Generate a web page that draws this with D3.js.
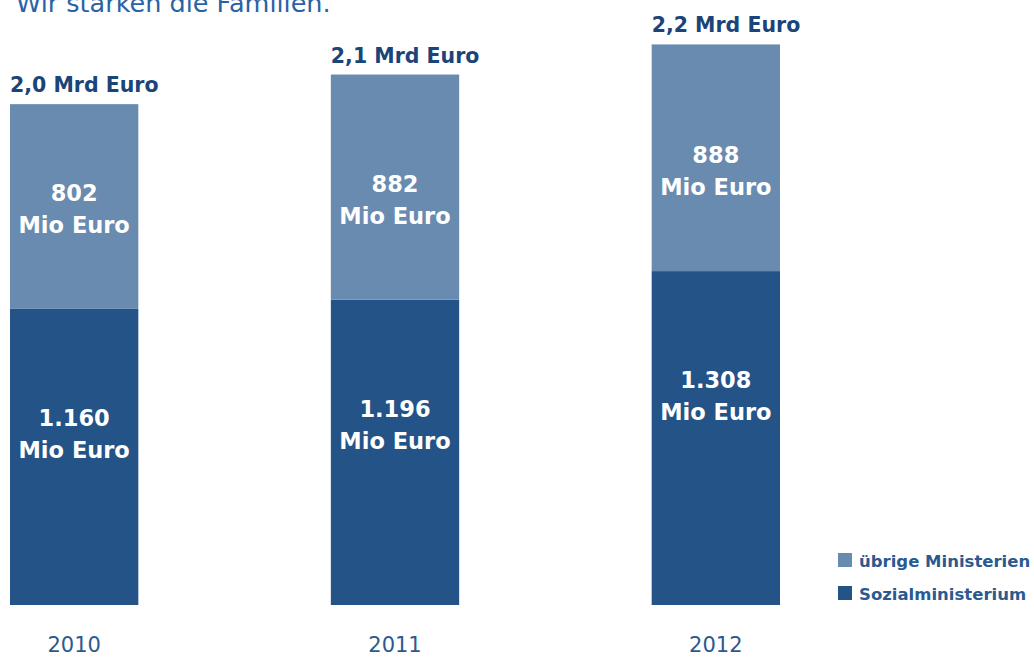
<!DOCTYPE html>
<html>
<head>
<meta charset="utf-8">
<script src="https://cdn.jsdelivr.net/npm/d3@7"></script>
<style>
  body { margin: 0; background: #fff; }
  svg { display: block; font-family: "DejaVu Sans", sans-serif; }
</style>
</head>
<body>
<svg id="chart" width="1034" height="657"></svg>
<script>
// values in Mio Euro
var years = ["2010", "2011", "2012"];
var sozial = [1160, 1196, 1308];
var uebrige = [802, 882, 888];
var totals = ["2,0 Mrd Euro", "2,1 Mrd Euro", "2,2 Mrd Euro"];
var seriesNames = ["übrige Ministerien", "Sozialministerium"];

var colLight = "#6a8bb0", colDark = "#245387";

var svg = d3.select("#chart");

// title (cut off at top in the original)
svg.append("text")
  .attr("x", 16).attr("y", 12)
  .attr("fill", "#2a62a6")
  .style("font-size", "25.5px")
  .text("Wir stärken die Familien.");

var x = d3.scaleBand().domain(years).range([10, 780]).paddingInner(0.6).paddingOuter(0);
var y = d3.scaleLinear().domain([0, 2370]).range([605, 0]);

var rows = years.map(function(yr, i) {
  return {year: yr, sozial: sozial[i], uebrige: uebrige[i], total: totals[i]};
});

var g = svg.selectAll(".bar").data(rows).enter().append("g").attr("class", "bar");

// Sozialministerium segment
g.append("rect")
  .attr("x", d => x(d.year))
  .attr("width", x.bandwidth())
  .attr("y", d => y(d.sozial))
  .attr("height", d => y(0) - y(d.sozial))
  .attr("fill", colDark);

// übrige Ministerien segment
g.append("rect")
  .attr("x", d => x(d.year))
  .attr("width", x.bandwidth())
  .attr("y", d => y(d.sozial + d.uebrige))
  .attr("height", d => y(d.sozial) - y(d.sozial + d.uebrige))
  .attr("fill", colLight);

var fmt = d3.formatLocale({decimal: ",", thousands: ".", grouping: [3], currency: ["", " €"]}).format(",d");

function segLabel(sel, value, cy) {
  var t = sel.append("text")
    .attr("text-anchor", "middle")
    .attr("fill", "#fff")
    .style("font-weight", "bold")
    .style("font-size", "22.5px");
  t.append("tspan").attr("x", d => x(d.year) + x.bandwidth() / 2).attr("y", d => cy(d) - 8).text(d => fmt(value(d)));
  t.append("tspan").attr("x", d => x(d.year) + x.bandwidth() / 2).attr("y", d => cy(d) + 24).text("Mio Euro");
}
segLabel(g, d => d.uebrige, d => y(d.sozial) - 100);
segLabel(g, d => d.sozial, d => y(d.sozial) + 125);

// totals above bars
g.append("text")
  .attr("x", d => x(d.year))
  .attr("y", d => y(d.sozial + d.uebrige) - 12)
  .attr("fill", "#1b4479")
  .style("font-weight", "bold")
  .style("font-size", "20.5px")
  .text(d => d.total);

// year axis
var axis = svg.append("g").attr("transform", "translate(0,652)")
  .call(d3.axisBottom(x).tickSize(0).tickPadding(0));
axis.select(".domain").remove();
axis.selectAll("text")
  .attr("dy", 0)
  .attr("fill", "#2b5a8e")
  .style("font-family", "DejaVu Sans, sans-serif")
  .style("font-size", "21px");

// legend
var leg = svg.selectAll(".leg").data(seriesNames).enter().append("g")
  .attr("class", "leg")
  .attr("transform", (d, i) => "translate(838," + (553 + i * 33) + ")");
leg.append("rect").attr("width", 14).attr("height", 14)
  .attr("fill", (d, i) => i === 0 ? colLight : colDark);
leg.append("text")
  .attr("x", 21).attr("y", 14)
  .attr("fill", "#2a5a90")
  .style("font-weight", "bold")
  .style("font-size", "16.5px")
  .text(d => d);
</script>
</body>
</html>
